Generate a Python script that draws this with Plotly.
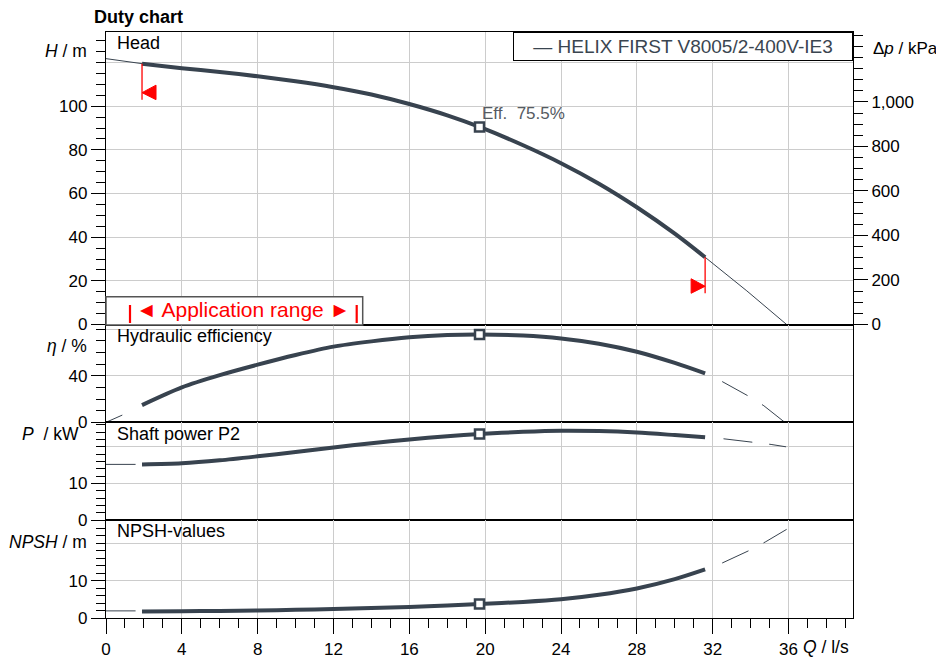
import plotly.graph_objects as go

# ---------------- data ----------------
Q = [1.9, 4, 6, 8, 10, 12, 14, 16, 18, 19.7, 22, 24, 26, 28, 30, 31.6]
HEAD = [119.5, 117.4, 115.7, 113.7, 111.4, 108.7, 105.4, 101.0, 95.8, 90.5,
        82.1, 73.9, 64.5, 53.7, 41.6, 30.8]
EFF = [14.8, 30.0, 40.5, 49.5, 57.8, 65.0, 69.5, 73.0, 75.0, 75.5,
       74.5, 72.0, 67.5, 60.6, 51.0, 42.0]
POWER = [15.2, 15.5, 16.3, 17.4, 18.6, 19.8, 21.0, 22.0, 22.9, 23.5,
         24.1, 24.4, 24.3, 23.9, 23.2, 22.6]
NPSH = [1.75, 1.8, 1.9, 2.0, 2.2, 2.4, 2.65, 2.95, 3.35, 3.75,
        4.3, 5.0, 6.2, 7.9, 10.4, 13.0]
BEP = 9  # index of the best efficiency point (Q = 19.7 l/s)

# thin extensions outside the application range
Q_HEAD_LEFT, HEAD_LEFT = [0, 1.9], [121.8, 119.5]
Q_HEAD_RIGHT, HEAD_RIGHT = [31.6, 33.8, 35.9], [30.8, 15.4, 0]
Q_EFF_LEFT, EFF_LEFT = [0, 0.86], [0, 6.2]
Q_EFF_RIGHT, EFF_RIGHT = [32.5, 33.9, 34.7, 35.8], [35.0, 22.4, 14.2, 0]
Q_POW_LEFT, POW_LEFT = [0, 1.56], [15.2, 15.2]
Q_POW_RIGHT, POW_RIGHT = [32.57, 34.16, 35.08, 35.87], [22.2, 21.3, 20.65, 20.0]
Q_NPSH_LEFT, NPSH_LEFT = [0, 1.56], [1.9, 1.9]
Q_NPSH_RIGHT, NPSH_RIGHT = [32.5, 33.95, 34.8, 35.9], [14.7, 18.1, 20.4, 23.7]

PUMP = "HELIX FIRST V8005/2-400V-IE3"
KPA_PER_M = 9.807

# tick labels
H_TICKS = [0, 20, 40, 60, 80, 100, 120]
H_LABELS = ["0", "20", "40", "60", "80", "100", ""]
KPA_TICKS = [0, 200, 400, 600, 800, 1000, 1200]
KPA_LABELS = ["0", "200", "400", "600", "800", "1,000", ""]
EFF_TICKS, EFF_LABELS = [0, 40, 80], ["0", "40", ""]
POW_TICKS, POW_LABELS = [0, 10, 20], ["0", "10", ""]
NPSH_TICKS, NPSH_LABELS = [0, 10, 20], ["0", "10", ""]

# ---------------- style ----------------
FONT = "Liberation Sans, Arial, sans-serif"
CURVE = "#38434f"
GRID = "#cccccc"
RED = "#ff0000"
OFF = 8                      # page body margin in the browser
W, HGT = 944 - OFF, 661 - OFF
ML, MR, MT, MB = 98, 91, 24, 43
PW, PH = W - ML - MR, HGT - MT - MB


def px2x(px):
    """screen pixel -> paper x"""
    return (px - OFF - ML) / PW


def px2y(py):
    """screen pixel -> paper y"""
    return (HGT - MB - (py - OFF)) / PH


D_HEAD = [px2y(324.5), 1.0]
D_EFF = [px2y(422.3), px2y(324.5)]
D_POW = [px2y(520), px2y(422.3)]
D_NPSH = [0.0, px2y(520)]

XR = [0, 39.4]

fig = go.Figure()

rows = [
    ("x", "y", HEAD, (Q_HEAD_LEFT, HEAD_LEFT, None), (Q_HEAD_RIGHT, HEAD_RIGHT, None)),
    ("x2", "y2", EFF, (Q_EFF_LEFT, EFF_LEFT, None), (Q_EFF_RIGHT, EFF_RIGHT, "29px,17px")),
    ("x3", "y3", POWER, (Q_POW_LEFT, POW_LEFT, None), (Q_POW_RIGHT, POW_RIGHT, "29px,17px")),
    ("x4", "y4", NPSH, (Q_NPSH_LEFT, NPSH_LEFT, None), (Q_NPSH_RIGHT, NPSH_RIGHT, "29px,17px")),
]

for xa, ya, vals, left, right in rows:
    for qx, vy, dash in (left, right):
        fig.add_trace(go.Scatter(
            x=qx, y=vy, xaxis=xa, yaxis=ya, mode="lines",
            line=dict(color=CURVE, width=1, dash=dash or "solid"),
            hoverinfo="skip", showlegend=False))
    fig.add_trace(go.Scatter(
        x=Q, y=vals, xaxis=xa, yaxis=ya, mode="lines", name=PUMP,
        line=dict(color=CURVE, width=4, shape="spline", smoothing=0.8),
        showlegend=False))
    fig.add_trace(go.Scatter(
        x=[Q[BEP]], y=[vals[BEP]], xaxis=xa, yaxis=ya, mode="markers",
        marker=dict(symbol="square", size=9, color="white",
                    line=dict(color=CURVE, width=2.5)),
        hoverinfo="skip", showlegend=False))

# invisible trace to carry the kPa axis
fig.add_trace(go.Scatter(
    x=Q, y=[h * KPA_PER_M for h in HEAD], xaxis="x", yaxis="y5",
    mode="lines", line=dict(width=0), hoverinfo="skip", showlegend=False))


def x_axis(anchor, bottom=False):
    d = dict(domain=[0, 1], anchor=anchor, range=XR, tickmode="linear",
             tick0=0, dtick=4, showgrid=True, gridcolor=GRID, gridwidth=1.3,
             showline=True, linecolor="black", linewidth=1.3, mirror=True,
             zeroline=False, fixedrange=True, automargin=False)
    if bottom:
        d.update(ticks="outside", ticklen=15, tickwidth=1.2, tickcolor="black",
                 showticklabels=True, tickfont=dict(size=17, color="black"),
                 minor=dict(dtick=1, tick0=0, ticks="outside", ticklen=9,
                            tickwidth=1.2, tickcolor="black", showgrid=False))
    else:
        d.update(ticks="", showticklabels=False)
    return d


def y_axis(domain, rng, tv, tt, minor_vals, anchor):
    return dict(domain=domain, range=rng, anchor=anchor, tickmode="array",
                tickvals=tv, ticktext=tt, ticks="outside", ticklen=14,
                tickwidth=1.2, tickcolor="black",
                tickfont=dict(size=17, color="black"),
                minor=dict(tickmode="array", tickvals=minor_vals, ticks="outside",
                           ticklen=9, tickwidth=1.2, tickcolor="black",
                           showgrid=False),
                showgrid=True, gridcolor=GRID, gridwidth=1.3,
                showline=True, linecolor="black", linewidth=1.3, mirror=True,
                zeroline=False, fixedrange=True, automargin=False)


H_RANGE = [0, 134]
fig.update_layout(
    template="none",
    width=W, height=HGT,
    margin=dict(l=ML, r=MR, t=MT, b=MB, pad=0, autoexpand=False),
    paper_bgcolor="white", plot_bgcolor="white",
    font=dict(family=FONT, size=17, color="black"),
    showlegend=False,
    xaxis=x_axis("y"), xaxis2=x_axis("y2"), xaxis3=x_axis("y3"),
    xaxis4=x_axis("y4", bottom=True),
    yaxis=y_axis(D_HEAD, H_RANGE, H_TICKS, H_LABELS,
                 [v for v in range(0, 135, 5)], "x"),
    yaxis2=y_axis(D_EFF, [0, 84], EFF_TICKS, EFF_LABELS,
                  [v for v in range(0, 85, 10)], "x2"),
    yaxis3=y_axis(D_POW, [0, 26.7], POW_TICKS, POW_LABELS,
                  [v for v in range(0, 27, 2)], "x3"),
    yaxis4=y_axis(D_NPSH, [0, 26.2], NPSH_TICKS, NPSH_LABELS,
                  [v for v in range(0, 27, 2)], "x4"),
    yaxis5=dict(overlaying="y", side="right", anchor="x",
                range=[H_RANGE[0] * KPA_PER_M, H_RANGE[1] * KPA_PER_M],
                tickmode="array", tickvals=KPA_TICKS, ticktext=KPA_LABELS,
                ticks="outside", ticklen=14, tickwidth=1.2, tickcolor="black",
                tickfont=dict(size=17, color="black"),
                minor=dict(tickmode="array",
                           tickvals=[v for v in range(0, 1315, 50)],
                           ticks="outside", ticklen=9, tickwidth=1.2,
                           tickcolor="black", showgrid=False),
                showgrid=False, zeroline=False, showline=False,
                fixedrange=True, automargin=False),
)

ann = []


def label(text, px, py, anchor="left", size=17, color="black", **kw):
    ann.append(dict(text=text, x=px2x(px), y=px2y(py), xref="paper", yref="paper",
                    xanchor=anchor, yanchor="middle", showarrow=False,
                    font=dict(family=FONT, size=size, color=color), **kw))


label("<b>Duty chart</b>", 93, 16.5, size=18, borderpad=0)
label("<i>H</i> / m", 89, 51, anchor="right", size=17.5)
label("Δ<i>p</i> / kPa", 871, 49, size=17)
label("<i>η</i> / %", 89, 346, anchor="right", size=17.5)
label("<i>P</i>  / kW", 81, 434, anchor="right", size=17.5)
label("<i>NPSH</i> / m", 89, 542, anchor="right", size=17.5)
label("<i>Q</i> / l/s", 801, 647, size=17.5)
label("Head", 115, 43, size=18)
label("Hydraulic efficiency", 115, 336, size=18)
label("Shaft power P2", 115, 434, size=18)
label("NPSH-values", 115, 531, size=18)
label("◄ Application range ►", 243, 309, anchor="center", size=21, color=RED)

ann.append(dict(text="— " + PUMP, x=1, y=1, xref="paper", yref="paper",
                xanchor="right", yanchor="top", showarrow=False,
                bordercolor="black", borderwidth=1, borderpad=2, bgcolor="white",
                width=334, height=23, align="center",
                font=dict(family=FONT, size=19, color="#3a4550")))

ann.append(dict(text=f"Eff.  {EFF[BEP]:.1f}%", x=Q[BEP], y=HEAD[BEP],
                xref="x", yref="y", xanchor="left", yanchor="middle",
                xshift=0, yshift=13, showarrow=False,
                font=dict(family=FONT, size=17, color="#555b62")))

shapes = [
    # application range box
    dict(type="rect", xref="paper", yref="paper", x0=0, x1=px2x(362.7),
         y0=px2y(325), y1=px2y(296.7), line=dict(color="#555555", width=1.5),
         fillcolor="white", layer="above"),
    dict(type="line", xref="paper", yref="paper", x0=px2x(130), x1=px2x(130),
         y0=px2y(323), y1=px2y(305), line=dict(color=RED, width=2.2), layer="above"),
    dict(type="line", xref="paper", yref="paper", x0=px2x(356.7), x1=px2x(356.7),
         y0=px2y(323), y1=px2y(305), line=dict(color=RED, width=2.2), layer="above"),
]

# red application-range limit marks on the head curve
for qa, ha, sgn in ((Q[0], HEAD[0], 1), (Q[-1], HEAD[-1], -1)):
    shapes.append(dict(type="line", xref="x", yref="y", xsizemode="pixel",
                       ysizemode="pixel", xanchor=qa, yanchor=ha,
                       x0=0, x1=0, y0=0, y1=-36,
                       line=dict(color=RED, width=1.3), layer="above"))
    shapes.append(dict(type="path", xref="x", yref="y", xsizemode="pixel",
                       ysizemode="pixel", xanchor=qa, yanchor=ha,
                       path=f"M0,-29 L{14 * sgn},-21.5 L{14 * sgn},-36 Z",
                       fillcolor=RED, line=dict(color=RED, width=1), layer="above"))

fig.update_layout(annotations=ann, shapes=shapes)

fig.write_html("out.html")
